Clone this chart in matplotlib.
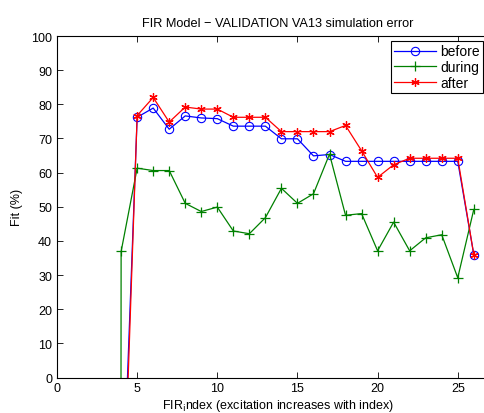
import numpy as np
import matplotlib
matplotlib.use("Agg")
import matplotlib.pyplot as plt

plt.rcParams['font.family'] = ['Liberation Sans', 'DejaVu Sans']

# FIR index and fit values
idx_before = [4, 5, 6, 7, 8, 9, 10, 11, 12, 13, 14, 15, 16, 17, 18, 19, 20, 21, 22, 23, 24, 25, 26]
fit_before = [-50, 76.2, 78.9, 72.7, 76.6, 76.0, 75.8, 73.6, 73.6, 73.6, 69.9, 69.9,
              64.9, 65.3, 63.3, 63.3, 63.3, 63.3, 63.3, 63.3, 63.3, 63.3, 36.0]

idx_during = [3, 4, 5, 6, 7, 8, 9, 10, 11, 12, 13, 14, 15, 16, 17, 18, 19, 20, 21, 22, 23, 24, 25, 26]
fit_during = [-5000, 36.9, 61.3, 60.6, 60.6, 51.0, 48.6, 49.9, 42.9, 42.1, 46.8, 55.4, 51.0,
              53.8, 65.4, 47.5, 48.0, 37.1, 45.5, 37.1, 40.9, 41.8, 29.2, 49.2]

idx_after = [4, 5, 6, 7, 8, 9, 10, 11, 12, 13, 14, 15, 16, 17, 18, 19, 20, 21, 22, 23, 24, 25, 26]
fit_after = [-60, 76.7, 82.0, 74.8, 79.2, 78.6, 78.6, 76.2, 76.2, 76.2, 72.0, 72.0,
             72.0, 72.0, 73.8, 66.4, 58.6, 62.3, 64.2, 64.2, 64.2, 64.2, 36.0]

# axes run a little past the right edge of the picture, as in the reference
px_per_unit = 16.03
x0, x1 = 57, 499
W, H = 484, 414
fig = plt.figure(figsize=(W / 100, H / 100), dpi=100)
ax = fig.add_axes([x0 / W, 1 - 378.5 / H, (x1 - x0) / W, (378.5 - 37) / H])

ax.plot(idx_before, fit_before, color=(0, 0, 1), lw=0.9, marker='o', ms=6,
        mfc='none', mew=0.8, label='before')
ax.plot(idx_during, fit_during, color=(0, 0.5, 0), lw=0.9, marker='+', ms=7,
        mew=0.9, label='during')
ax.plot(idx_after, fit_after, color=(1, 0, 0), lw=0.9, marker=(6, 2, 0), ms=6,
        mew=0.9, label='after')

ax.set_xlim(0, (x1 - x0) / px_per_unit)
ax.set_ylim(0, 100)
ax.set_xticks(range(0, 26, 5))
ax.set_yticks(range(0, 101, 10))
ax.tick_params(direction='in', top=True, right=True, labelsize=9, length=4, width=0.6)
for s in ax.spines.values():
    s.set_linewidth(0.8)

ax.set_title("FIR Model \u2212 VALIDATION VA13 simulation error", fontsize=9.2, pad=7)
ax.set_xlabel("FIR$_{\\rm i}$ndex (excitation increases with index)", fontsize=9, labelpad=2)
ax.set_ylabel("Fit (%)", fontsize=9, labelpad=6)

leg = ax.legend(loc='upper right', bbox_to_anchor=(483 / W, 1 - 42 / H),
                bbox_transform=fig.transFigure,
                fontsize=10, fancybox=False, edgecolor='black',
                framealpha=1, borderaxespad=0, handlelength=3.0, labelspacing=0.12,
                borderpad=0.25, handletextpad=0.3)
leg.get_frame().set_linewidth(0.8)

fig.savefig("out.png", dpi=100)
